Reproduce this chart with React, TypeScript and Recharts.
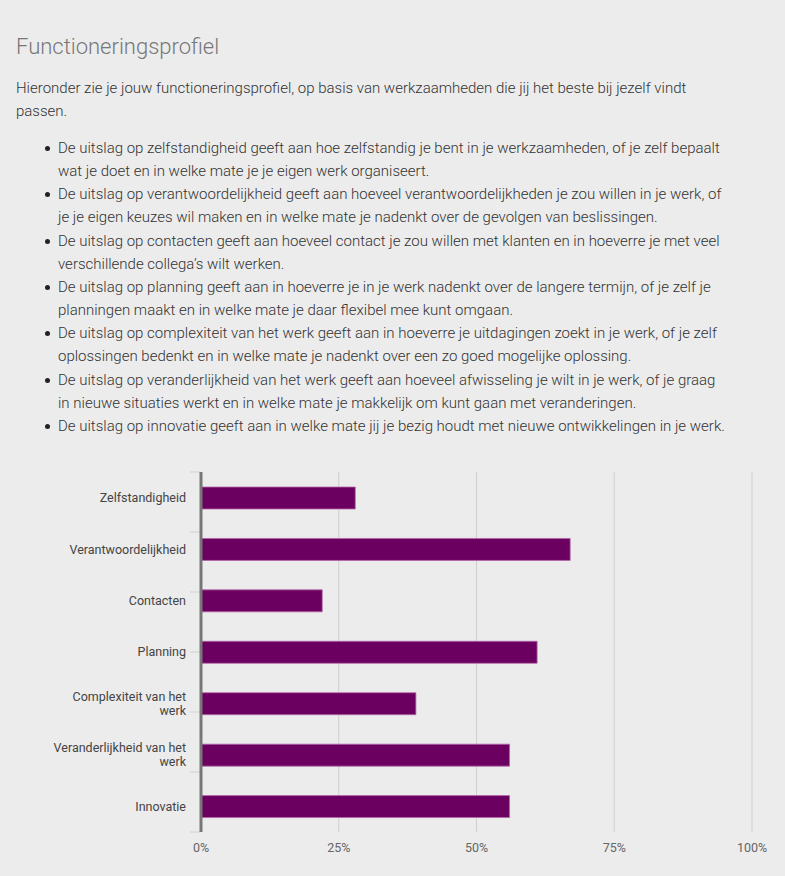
import React from "react";
import { BarChart, Bar, XAxis, YAxis, CartesianGrid, ReferenceLine } from "recharts";

const categories = [
  "Zelfstandigheid",
  "Verantwoordelijkheid",
  "Contacten",
  "Planning",
  "Complexiteit van het werk",
  "Veranderlijkheid van het werk",
  "Innovatie",
];
const categoryLines: string[][] = [
  ["Zelfstandigheid"],
  ["Verantwoordelijkheid"],
  ["Contacten"],
  ["Planning"],
  ["Complexiteit van het", "werk"],
  ["Veranderlijkheid van het", "werk"],
  ["Innovatie"],
];
const scores = [28, 67, 22, 61, 39, 56, 56];
const xTicks = [0, 25, 50, 75, 100];
const boundaryTicks = [0, 1, 2, 3, 4, 5, 6, 7];

const title = "Functioneringsprofiel";
const introLines = [
  "Hieronder zie je jouw functioneringsprofiel, op basis van werkzaamheden die jij het beste bij jezelf vindt",
  "passen.",
];
const bullets: string[][] = [
  [
    "De uitslag op zelfstandigheid geeft aan hoe zelfstandig je bent in je werkzaamheden, of je zelf bepaalt",
    "wat je doet en in welke mate je je eigen werk organiseert.",
  ],
  [
    "De uitslag op verantwoordelijkheid geeft aan hoeveel verantwoordelijkheden je zou willen in je werk, of",
    "je je eigen keuzes wil maken en in welke mate je nadenkt over de gevolgen van beslissingen.",
  ],
  [
    "De uitslag op contacten geeft aan hoeveel contact je zou willen met klanten en in hoeverre je met veel",
    "verschillende collega’s wilt werken.",
  ],
  [
    "De uitslag op planning geeft aan in hoeverre je in je werk nadenkt over de langere termijn, of je zelf je",
    "planningen maakt en in welke mate je daar flexibel mee kunt omgaan.",
  ],
  [
    "De uitslag op complexiteit van het werk geeft aan in hoeverre je uitdagingen zoekt in je werk, of je zelf",
    "oplossingen bedenkt en in welke mate je nadenkt over een zo goed mogelijke oplossing.",
  ],
  [
    "De uitslag op veranderlijkheid van het werk geeft aan hoeveel afwisseling je wilt in je werk, of je graag",
    "in nieuwe situaties werkt en in welke mate je makkelijk om kunt gaan met veranderingen.",
  ],
  [
    "De uitslag op innovatie geeft aan in welke mate jij je bezig houdt met nieuwe ontwikkelingen in je werk.",
  ],
];

const data = categories.map((name, i) => ({ name, value: scores[i] }));

const CategoryTick = (props: any) => {
  const { x, y, payload, index } = props;
  const lines = categoryLines[index] ?? [String(payload.value)];
  const lh = 14;
  const startY = y - ((lines.length - 1) * lh) / 2;
  return (
    <text
      x={x}
      y={startY}
      textAnchor="end"
      fontSize={12.5}
      fill="#444"
      fontFamily="Roboto, sans-serif"
      fontWeight={400}
    >
      {lines.map((l: string, i: number) => (
        <tspan key={i} x={x} y={startY + i * lh} dy="0.35em">
          {l}
        </tspan>
      ))}
    </text>
  );
};

const font = "Roboto, 'Noto Sans', sans-serif";

export default function App() {
  return (
    <div
      style={{
        position: "relative",
        width: 785,
        height: 876,
        background: "#ececec",
        fontFamily: font,
        color: "#333",
        overflow: "hidden",
      }}
    >
      <style>{`body{margin:0;background:#ececec;}`}</style>
      <div
        style={{
          position: "absolute",
          left: 16,
          top: 32,
          fontSize: 22,
          lineHeight: "30px",
          fontWeight: 300,
          color: "#777",
          whiteSpace: "nowrap",
        }}
      >
        {title}
      </div>
      <div
        style={{
          position: "absolute",
          left: 16,
          top: 77,
          fontSize: 15,
          lineHeight: "23.2px",
          fontWeight: 300,
          whiteSpace: "nowrap",
        }}
      >
        {introLines.map((l, i) => (
          <div key={i}>{l}</div>
        ))}
      </div>
      <div
        style={{
          position: "absolute",
          left: 58,
          top: 137,
          fontSize: 15,
          lineHeight: "23.15px",
          fontWeight: 300,
          whiteSpace: "nowrap",
        }}
      >
        {bullets.map((b, i) => (
          <div key={i} style={{ position: "relative" }}>
            <span
              style={{
                position: "absolute",
                left: -13,
                top: 9,
                width: 5,
                height: 5,
                borderRadius: "50%",
                background: "#222",
              }}
            />
            {b.map((l, j) => (
              <div key={j}>{l}</div>
            ))}
          </div>
        ))}
      </div>
      <div style={{ position: "absolute", left: 0, top: 450 }}>
        <BarChart
          width={785}
          height={426}
          data={data}
          layout="vertical"
          margin={{ top: 22, right: 33, bottom: 14, left: 0 }}
          barCategoryGap={0}
        >
          <CartesianGrid horizontal={false} vertical={true} stroke="#cfcfcf" />
          <XAxis
            type="number"
            dataKey="value"
            domain={[0, 100]}
            ticks={xTicks}
            tickFormatter={(v: number) => `${v}%`}
            axisLine={false}
            tickLine={false}
            height={30}
            tickMargin={5}
            tick={{ fontSize: 12.5, fill: "#666", fontFamily: font }}
          />
          <YAxis
            type="category"
            dataKey="name"
            width={201}
            axisLine={{ stroke: "#777", strokeWidth: 3 }}
            tickLine={false}
            tickSize={0}
            tickMargin={15}
            tick={<CategoryTick />}
            interval={0}
          />
          <YAxis yAxisId="bounds" type="number" domain={[0, 7]} hide />
          {boundaryTicks.map((b) => (
            <ReferenceLine
              key={b}
              yAxisId="bounds"
              segment={[
                { x: -2, y: b },
                { x: -0.2, y: b },
              ]}
              stroke="#d0d0d0"
              ifOverflow="visible"
            />
          ))}
          <Bar
            dataKey="value"
            fill="#6c0060"
            stroke="#b36aa8"
            strokeWidth={0.8}
            barSize={22}
            isAnimationActive={false}
          />
        </BarChart>
      </div>
    </div>
  );
}
